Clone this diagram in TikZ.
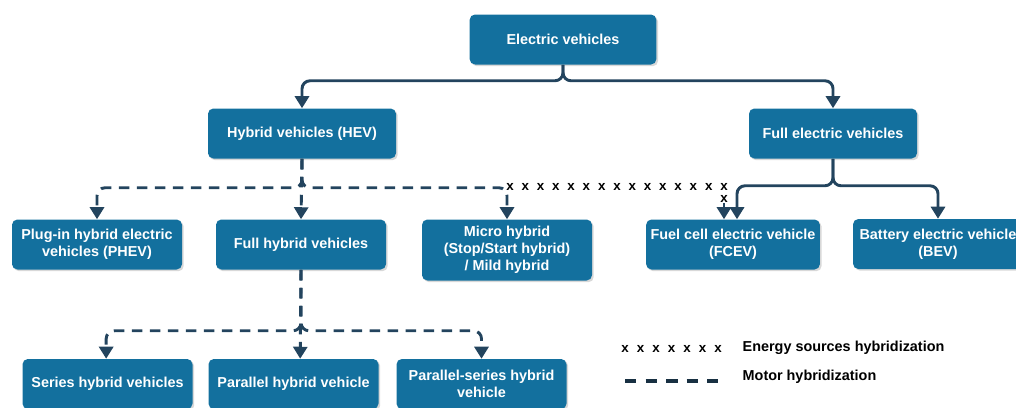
\documentclass[tikz,border=0pt]{standalone}
\usepackage{fontspec}
\setmainfont{Liberation Sans}
\usetikzlibrary{arrows.meta,calc,shadows}
\definecolor{boxblue}{RGB}{19,112,158}
\definecolor{linedark}{RGB}{35,68,94}

\begin{document}
\begin{tikzpicture}[x=0.75pt,y=-0.75pt,
    box/.style={rectangle,rounded corners=4pt,fill=boxblue,text=white,align=center,
        font=\fontsize{10.8}{12.8}\selectfont\bfseries,minimum width=127.5pt,minimum height=37.5pt,
        drop shadow={shadow xshift=1.3pt,shadow yshift=-1.3pt,fill=black!30}},
    conn/.style={draw=linedark,line width=2.2pt,rounded corners=6pt,-{Triangle[width=10.5pt,length=9pt]}},
    motor/.style={conn,dash pattern=on 8pt off 5.5pt},
    xmark/.style={inner sep=0pt,font=\fontsize{10}{10}\selectfont\bfseries}]
    \useasboundingbox (0,0) rectangle (1016,407);
    % top levels
    \node[box,minimum width=140pt] (ev) at (563,39.5) {Electric vehicles};
    \node[box,minimum width=141pt] (hev) at (302,133.5) {Hybrid vehicles (HEV)};
    \node[box,minimum width=126pt] (fev) at (833,133.5) {Full electric vehicles};
    % third level
    \node[box] (phev) at (97,244.5) {Plug-in hybrid electric\\vehicles (PHEV)};
    \node[box] (fhv) at (301,244.5) {Full hybrid vehicles};
    \node[box,minimum height=45.75pt] (micro) at (507,250) {Micro hybrid\\(Stop/Start hybrid)\\/ Mild hybrid};
    \node[box] (fcev) at (733,244.5) {Fuel cell electric vehicle\\(FCEV)};
    \node[box] (bev) at (938,244) {Battery electric vehicle\\(BEV)};
    % bottom level
    \node[box] (ser) at (107.5,384) {Series hybrid vehicles};
    \node[box] (par) at (293.5,384) {Parallel hybrid vehicle};
    \node[box] (pser) at (481.5,384) {Parallel-series hybrid\\vehicle};

    \draw[conn] (ev.south) -- ($(ev.south)+(0,16)$) -| (hev.north);
    \draw[conn] (ev.south) -- ($(ev.south)+(0,16)$) -| (fev.north);
    \draw[conn] (fev.south) -- ($(fev.south)+(0,27)$) -| ([xshift=3pt]fcev.north);
    \draw[conn] (fev.south) -- ($(fev.south)+(0,27)$) -| (bev.north);

    \draw[motor] (hev.south) -- ($(hev.south)+(0,29)$) -| (phev.north);
    \draw[motor] (hev.south) -- (fhv.north);
    \draw[motor] (hev.south) -- ($(hev.south)+(0,29)$) -| (micro.north);
    \draw[motor] (fhv.south) -- ($(fhv.south)+(0,61)$) -| ([xshift=-1pt]ser.north);
    \draw[motor] (fhv.south) -- ([xshift=5pt]par.north);
    \draw[motor] (fhv.south) -- ($(fhv.south)+(0,61)$) -| (pser.north);

    % energy sources line
    \coordinate (xs) at (510,187);
    \coordinate (xe) at (724,187);
    \foreach \i in {0,...,14}
        \node[xmark] at ($(xs)!\i/14!(xe)$) {x};
    \node[xmark] (xd) at ($(xe)+(0,12)$) {x};
    \draw[conn] (xd.south) -- (xe |- fcev.north);

    % legend
    \foreach \i in {0,...,6}
        \node[xmark] at (625+\i*15.5,349) {x};
    \node[anchor=west,font=\fontsize{10.8}{12.8}\selectfont\bfseries] (lx) at (738,348) {Energy sources hybridization};
    \coordinate (ls) at (625,381);
    \coordinate (le) at (718,381);
    \draw[linedark!70!black,line width=3pt,dash pattern=on 8.6pt off 6.8pt] (ls) -- (le);
    \node[anchor=west,font=\fontsize{10.8}{12.8}\selectfont\bfseries] (lm) at (738,377) {Motor hybridization};
\end{tikzpicture}
\end{document}
